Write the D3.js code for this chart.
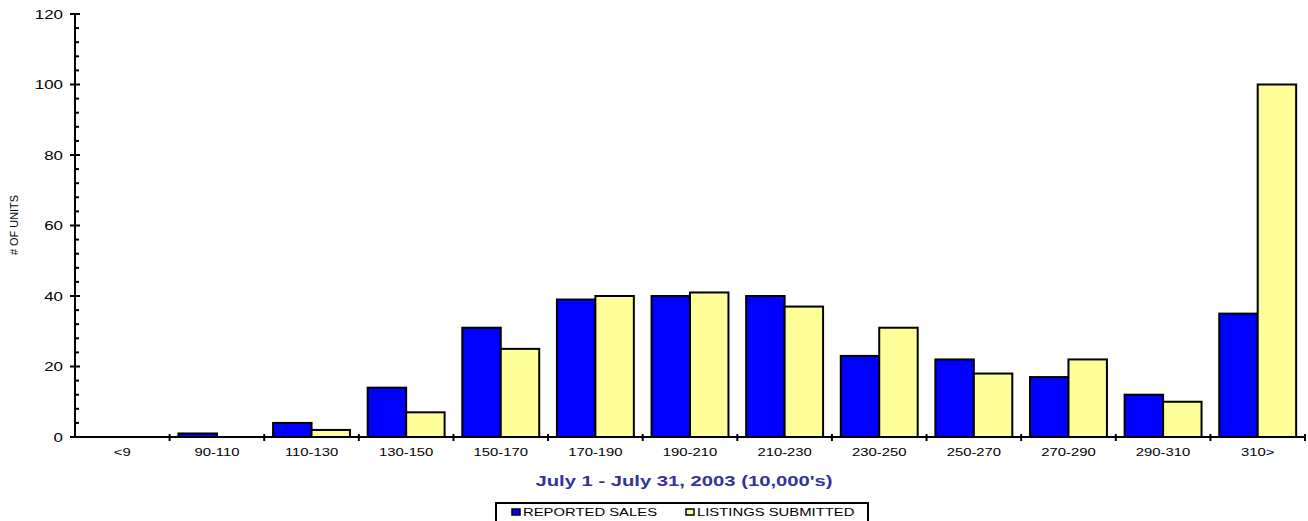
<!DOCTYPE html>
<html>
<head>
<meta charset="utf-8">
<script src="https://cdn.jsdelivr.net/npm/d3@7"></script>
<style>
  body { margin: 0; background: #fff; }
  svg { font-family: "Liberation Sans", Arial, sans-serif; display: block; }
</style>
</head>
<body>
<div id="chart"></div>
<script>
// data
var categories = ["<9", "90-110", "110-130", "130-150", "150-170", "170-190", "190-210",
                  "210-230", "230-250", "250-270", "270-290", "290-310", "310>"];
var reportedSales = [0, 1, 4, 14, 31, 39, 40, 40, 23, 22, 17, 12, 35];
var listingsSubmitted = [0, 0, 2, 7, 25, 40, 41, 37, 31, 18, 22, 10, 100];
var seriesNames = ["REPORTED SALES", "LISTINGS SUBMITTED"];
var seriesColors = ["#0000ff", "#ffff99"];
var yTicks = [0, 20, 40, 60, 80, 100, 120];

var W = 1308, H = 521;
var plotL = 75, plotR = 1305, plotT = 14, plotB = 437;
var stretch = 1.35; // the original fonts are drawn wide

var svg = d3.select("#chart").append("svg")
    .attr("width", W)
    .attr("height", H);

// text helper: places a horizontally stretched label
function wideText(g, px, py, str, size, anchor) {
    return g.append("text")
        .attr("transform", "translate(" + px + "," + py + ") scale(" + stretch + ",1)")
        .attr("text-anchor", anchor || "start")
        .style("font-size", size + "px")
        .attr("fill", "#000")
        .text(str);
}

var x = d3.scaleBand()
    .domain(categories)
    .range([plotL, plotR])
    .paddingInner(0)
    .paddingOuter(0);

var inner = d3.scaleBand()
    .domain([0, 1])
    .range([0, x.bandwidth()])
    .paddingOuter(0.23)
    .paddingInner(0);

var y = d3.scaleLinear()
    .domain([0, 120])
    .range([plotB, plotT]);

// bars
var rows = categories.map(function (c, i) {
    return { cat: c, vals: [reportedSales[i], listingsSubmitted[i]] };
});

var groups = svg.selectAll("g.grp")
    .data(rows)
    .enter().append("g")
    .attr("class", "grp")
    .attr("transform", function (d) { return "translate(" + x(d.cat) + ",0)"; });

groups.selectAll("rect")
    .data(function (d) { return d.vals.map(function (v, k) { return { k: k, v: v }; }).filter(function (d) { return d.v > 0; }); })
    .enter().append("rect")
    .attr("x", function (d) { return inner(d.k); })
    .attr("y", function (d) { return y(d.v); })
    .attr("width", inner.bandwidth())
    .attr("height", function (d) { return y(0) - y(d.v); })
    .attr("fill", function (d) { return seriesColors[d.k]; })
    .attr("stroke", "#000")
    .attr("stroke-width", 2);

// y axis with major + minor ticks
var yAxisG = svg.append("g").attr("transform", "translate(" + plotL + ",0)");
yAxisG.append("line")
    .attr("x1", 0).attr("x2", 0)
    .attr("y1", y(120)).attr("y2", y(0))
    .attr("stroke", "#000").attr("stroke-width", 2);

d3.range(0, 121, 4).forEach(function (v) {
    var major = v % 20 === 0;
    yAxisG.append("line")
        .attr("x1", major ? -5 : 0).attr("x2", major ? 5 : 4)
        .attr("y1", y(v)).attr("y2", y(v))
        .attr("stroke", "#000").attr("stroke-width", 2);
});

yTicks.forEach(function (t) {
    wideText(yAxisG, -12, y(t) + 4.5, t, 12.5, "end");
});

// x axis
var xAxisG = svg.append("g");
xAxisG.append("line")
    .attr("x1", plotL).attr("x2", plotR)
    .attr("y1", plotB).attr("y2", plotB)
    .attr("stroke", "#000").attr("stroke-width", 2);

categories.forEach(function (c) {
    var bx = x(c) + x.bandwidth();
    xAxisG.append("line")
        .attr("x1", bx).attr("x2", bx)
        .attr("y1", plotB - 3).attr("y2", plotB + 4)
        .attr("stroke", "#000").attr("stroke-width", 2);
    wideText(xAxisG, x(c) + x.bandwidth() / 2, plotB + 19, c, 11, "middle");
});

// axis title (rotated, narrow letters)
svg.append("text")
    .attr("transform", "translate(18,225) rotate(-90)")
    .attr("text-anchor", "middle")
    .style("font-size", "11px")
    .attr("textLength", 60)
    .attr("lengthAdjust", "spacingAndGlyphs")
    .attr("fill", "#000")
    .text("# OF UNITS");

wideText(svg, 684, 486, "July 1 - July 31, 2003 (10,000's)", 15, "middle")
    .style("font-weight", "bold")
    .attr("fill", "#333399");

// legend
var leg = svg.append("g");
leg.append("rect")
    .attr("x", 496).attr("y", 503)
    .attr("width", 372).attr("height", 24)
    .attr("fill", "#fff")
    .attr("stroke", "#000").attr("stroke-width", 2);

var legX = [512, 686];
seriesNames.forEach(function (n, i) {
    leg.append("rect")
        .attr("x", legX[i]).attr("y", 509)
        .attr("width", 8).attr("height", 6)
        .attr("fill", seriesColors[i])
        .attr("stroke", "#000").attr("stroke-width", 1.5);
    wideText(leg, legX[i] + 11, 516, n, 11, "start");
});
</script>
</body>
</html>
